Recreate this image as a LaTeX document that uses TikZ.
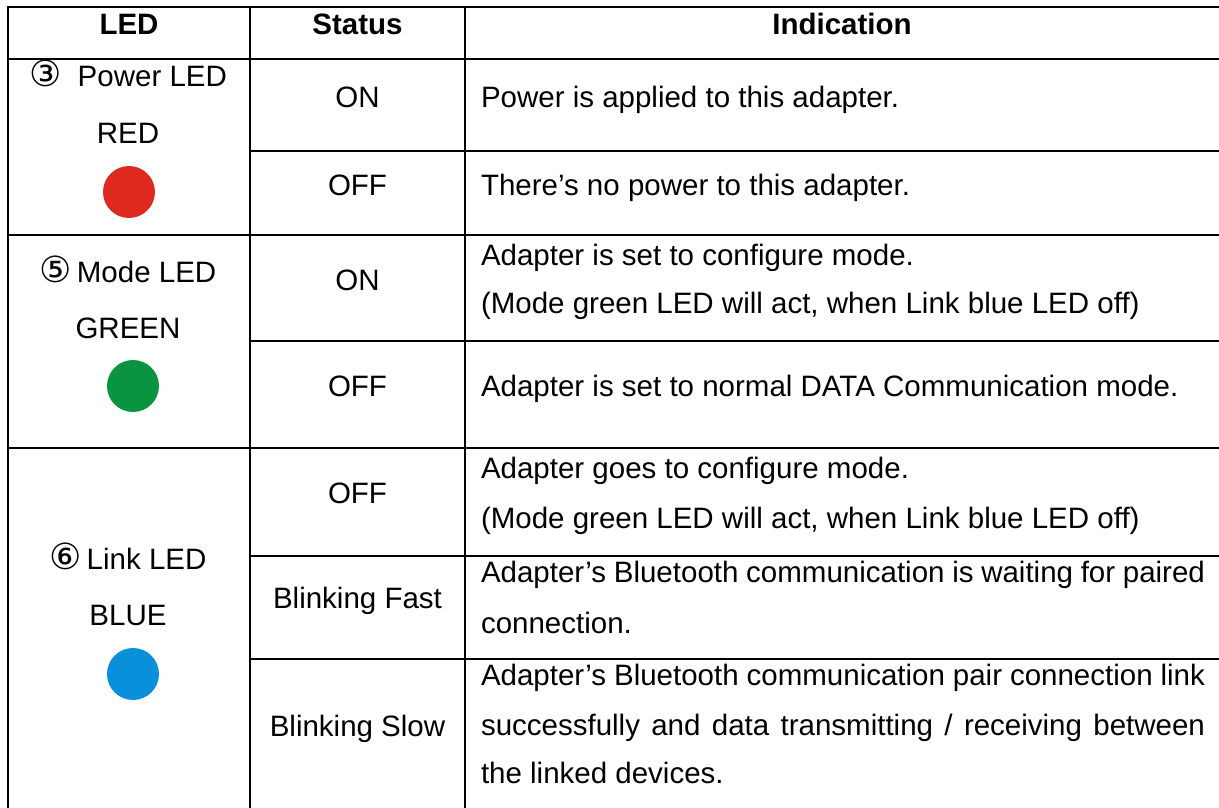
\documentclass[tikz,border=0pt]{standalone}
\usepackage{fontspec}
\setmainfont{Liberation Sans}
\newfontfamily\circfont{DejaVu Sans}
\definecolor{ledred}{HTML}{DF2A20}
\definecolor{ledgreen}{HTML}{0A9440}
\definecolor{ledblue}{HTML}{0A90DA}
\tikzset{
  grid/.style={line width=1.5pt, black},
  txt/.style={inner sep=0pt, outer sep=0pt, font=\fontsize{29.5}{34}\selectfont},
  hdr/.style={txt, font=\fontsize{29.5}{34}\selectfont\bfseries, anchor=base},
  ctr/.style={txt, anchor=base},
  lft/.style={txt, anchor=base west},
  led/.style={circle, inner sep=0pt, minimum size=52pt, draw=none}
}
\newcommand{\circd}[1]{{\circfont\fontsize{36}{40}\selectfont #1}}
\newcommand{\jline}[1]{\makebox[724pt][s]{#1}}
\begin{document}
\begin{tikzpicture}[x=1pt,y=-1pt]
\useasboundingbox (0,0) rectangle (1219,808);
% grid
\coordinate (tl) at (8,7);
\draw[grid] (8,808) -- (tl) -- (1219,7);
\draw[grid] (8,59) -- (1219,59);
\draw[grid] (250,7) -- (250,808);
\draw[grid] (465,7) -- (465,808);
\draw[grid] (8,235) -- (1219,235);
\draw[grid] (8,448) -- (1219,448);
\draw[grid] (250,151) -- (1219,151);
\draw[grid] (250,341) -- (1219,341);
\draw[grid] (250,556) -- (1219,556);
\draw[grid] (250,659) -- (1219,659);
% header
\node[hdr] (hled) at (129,35) {LED};
\node[hdr] (hstat) at (357.5,35) {Status};
\node[hdr] (hind) at (842,35) {Indication};
% Power LED
\node[ctr] (p1) at (128,87) {\circd{③}\ \ Power LED};
\node[ctr] (p2) at (128,143) {RED};
\node[led, fill=ledred] (pc) at (129,192) {};
\node[ctr] (pon) at (357.5,107) {ON};
\node[ctr] (poff) at (357.5,195) {OFF};
\node[lft] (pi1) at (481,107) {Power is applied to this adapter.};
\node[lft] (pi2) at (481,195) {There’s no power to this adapter.};
% Mode LED
\node[ctr] (m1) at (128,282) {\circd{⑤}\,Mode LED};
\node[ctr] (m2) at (128,338) {GREEN};
\node[led, fill=ledgreen] (mc) at (133,386) {};
\node[ctr] (mon) at (357.5,290) {ON};
\node[ctr] (moff) at (357.5,396) {OFF};
\node[lft] (mi1) at (481,265) {Adapter is set to configure mode.};
\node[lft] (mi2) at (481,313) {(Mode green LED will act, when Link blue LED off)};
\node[lft] (mi3) at (481,396) {Adapter is set to normal DATA Communication mode.};
% Link LED
\node[ctr] (l1) at (128,569) {\circd{⑥}\,Link LED};
\node[ctr] (l2) at (128,625) {BLUE};
\node[led, fill=ledblue] (lc) at (133,674) {};
\node[ctr] (loff) at (357.5,503) {OFF};
\node[ctr] (lfast) at (357.5,608) {Blinking Fast};
\node[ctr] (lslow) at (357.5,736) {Blinking Slow};
\node[lft] (li1) at (481,478) {Adapter goes to configure mode.};
\node[lft] (li2) at (481,528) {(Mode green LED will act, when Link blue LED off)};
\node[lft] (li3) at (481,582) {\jline{Adapter’s Bluetooth communication is waiting for paired}};
\node[lft] (li4) at (481,633) {connection.};
\node[lft] (li5) at (481,685) {\jline{Adapter’s Bluetooth communication pair connection link}};
\node[lft] (li6) at (481,735) {\jline{successfully and data transmitting / receiving between}};
\node[lft] (li7) at (481,783) {the linked devices.};
\end{tikzpicture}
\end{document}
